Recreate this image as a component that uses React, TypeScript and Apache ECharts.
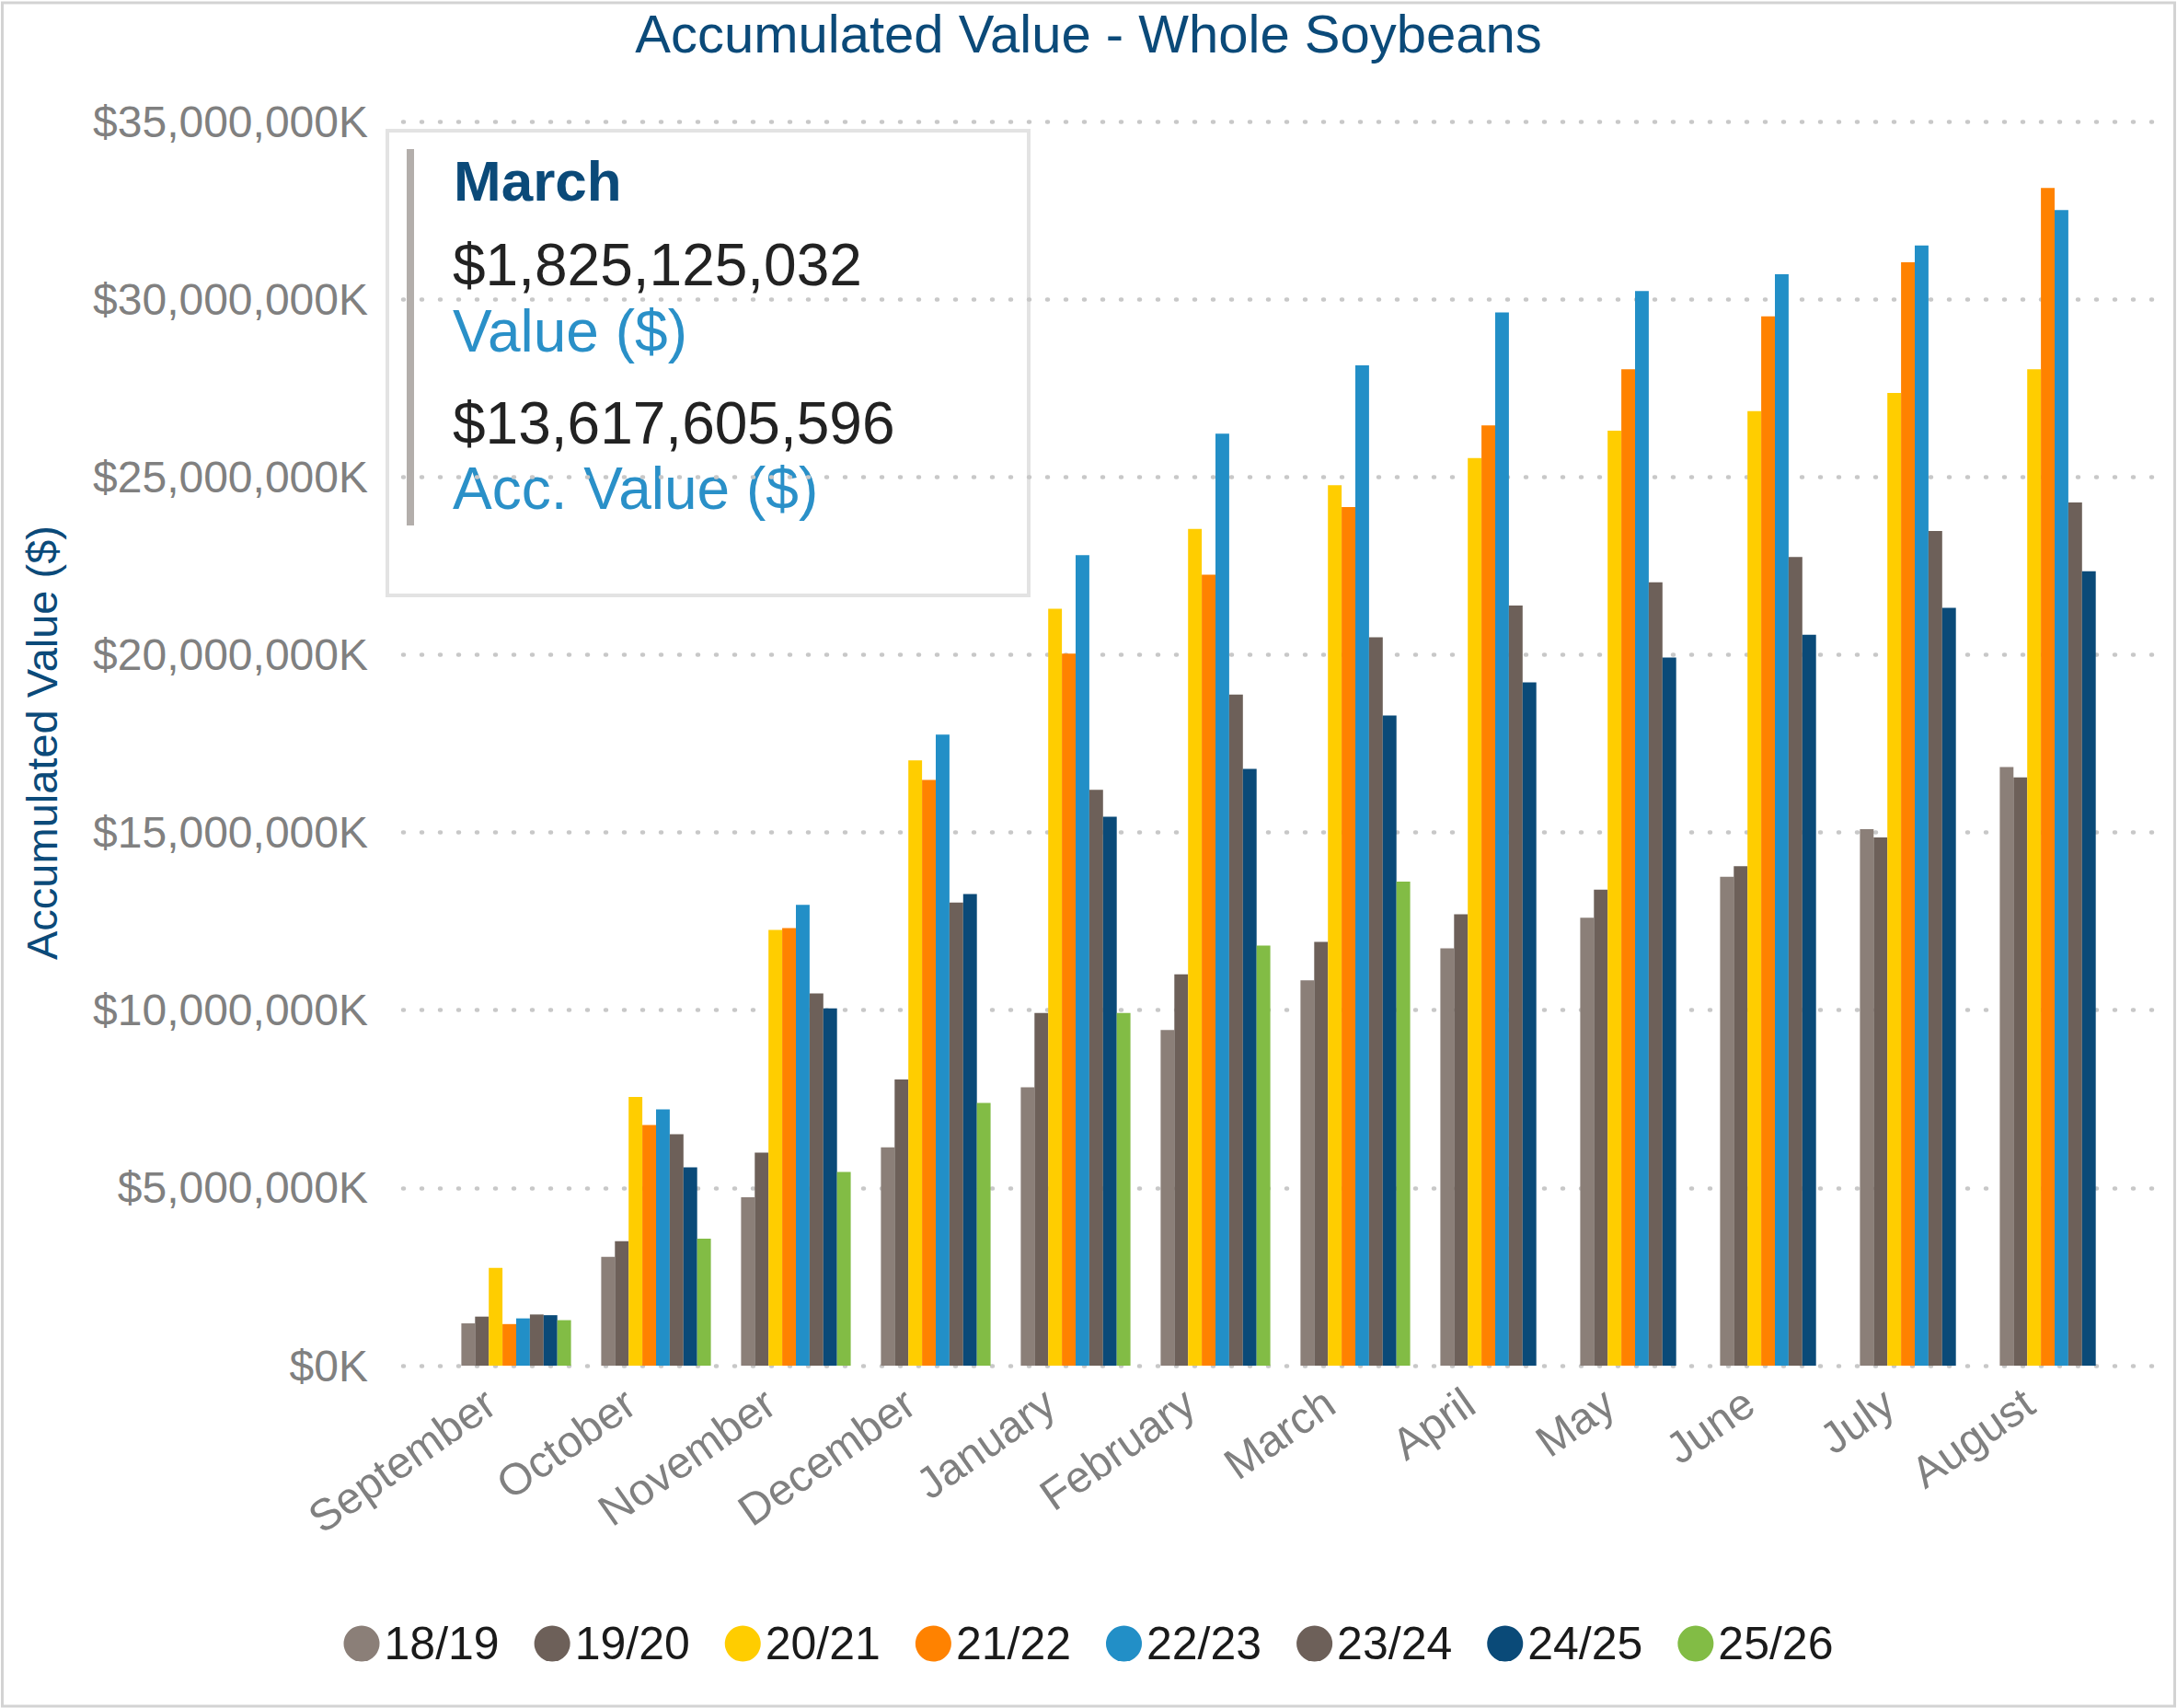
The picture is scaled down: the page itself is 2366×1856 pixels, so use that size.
import React, { useEffect, useRef } from "react";
import * as echarts from "echarts";

const months = [
  "September", "October", "November", "December", "January", "February",
  "March", "April", "May", "June", "July", "August",
];
const seasons = ["18/19", "19/20", "20/21", "21/22", "22/23", "23/24", "24/25", "25/26"];
const seasonColors = ["#8b7f78", "#6d6059", "#ffcd00", "#ff8200", "#228fc7", "#6d6059", "#0a4a78", "#82bc45"];

// Accumulated value in thousands of dollars (K)
const s1819 = [1190000, 3060000, 4740000, 6140000, 7830000, 9440000, 10840000, 11740000, 12600000, 13750000, 15090000, 16840000];
const s1920 = [1380000, 3500000, 5990000, 8050000, 9920000, 11010000, 11920000, 12700000, 13390000, 14050000, 14860000, 16550000];
const s2021 = [2750000, 7560000, 12260000, 17030000, 21290000, 23540000, 24770000, 25530000, 26300000, 26850000, 27360000, 28030000];
const s2122 = [1170000, 6770000, 12310000, 16480000, 20030000, 22250000, 24150000, 26450000, 28030000, 29520000, 31040000, 33130000];
const s2223 = [1330000, 7210000, 12960000, 17750000, 22800000, 26220000, 28140000, 29630000, 30230000, 30700000, 31510000, 32510000];
const s2324 = [1440000, 6510000, 10470000, 13030000, 16200000, 18880000, 20490000, 21380000, 22040000, 22750000, 23480000, 24280000];
const s2425 = [1420000, 5580000, 10050000, 13270000, 15440000, 16790000, 18290000, 19220000, 19920000, 20560000, 21320000, 22350000];
const s2526 = [1280000, 3570000, 5450000, 7390000, 9920000, 11820000, 13617606, null, null, null, null, null];
const seriesValues = [s1819, s1920, s2021, s2122, s2223, s2324, s2425, s2526];

const yMin = 0;
const yMax = 35000000;
const yStep = 5000000;

const tooltipMonth = "March";
const tooltipValue = "$1,825,125,032";
const tooltipValueLabel = "Value ($)";
const tooltipAcc = "$13,617,605,596";
const tooltipAccLabel = "Acc. Value ($)";

const FONT = "'Liberation Sans', Arial, sans-serif";

export default function App() {
  const ref = useRef<HTMLDivElement>(null);
  useEffect(() => {
    document.body.style.margin = "0";
    const chart = echarts.init(ref.current!, null, { renderer: "svg" });
    const option: any = {
      animation: false,
      backgroundColor: "#ffffff",
      textStyle: { fontFamily: FONT },
      title: {
        text: "Accumulated Value - Whole Soybeans",
        left: "center",
        top: 2,
        textStyle: { fontSize: 58, fontWeight: "normal", color: "#0b4a79", fontFamily: FONT },
      },
      legend: {
        data: seasons,
        left: "center",
        top: 1756,
        icon: "circle",
        itemWidth: 39,
        itemHeight: 39,
        itemGap: 38,
        selectedMode: false,
        textStyle: { fontSize: 50, color: "#1a1a1a", fontFamily: FONT },
      },
      grid: [
        { left: 438, right: 21, top: 132, bottom: 372, containLabel: false },
        { left: 485, right: 57, top: 132, bottom: 372, containLabel: false },
      ],
      xAxis: [
        { gridIndex: 0, type: "category", data: months, show: false },
        {
          gridIndex: 1,
          type: "category",
          data: months,
          axisLine: { show: false },
          axisTick: { show: false },
          axisLabel: {
            rotate: 35,
            fontSize: 48,
            color: "#808080",
            margin: 16,
            padding: [0, 34, 0, 0],
            interval: 0,
            fontFamily: FONT,
          },
        },
      ],
      yAxis: [
        {
          gridIndex: 0,
          type: "value",
          min: yMin,
          max: yMax,
          interval: yStep,
          axisLine: { show: false },
          axisTick: { show: false },
          axisLabel: {
            fontSize: 48,
            color: "#808080",
            margin: 38,
            fontFamily: FONT,
            formatter: (v: number) => "$" + v.toLocaleString("en-US") + "K",
          },
          splitLine: {
            show: true,
            lineStyle: { color: "#c8c8c8", width: 4.5, type: [1, 19], cap: "round" },
          },
        },
        { gridIndex: 1, type: "value", min: yMin, max: yMax, interval: yStep, show: false, splitLine: { show: false } },
      ],
      series: seasons.map((name, i) => ({
        name,
        type: "bar",
        xAxisIndex: 1,
        yAxisIndex: 1,
        data: seriesValues[i],
        barWidth: 14.9,
        barGap: "0%",
        itemStyle: { color: seasonColors[i] },
        emphasis: { disabled: true },
      })),
      graphic: [
        {
          type: "text",
          x: 45,
          y: 807,
          rotation: Math.PI / 2,
          style: {
            text: "Accumulated Value ($)",
            fontSize: 47,
            fill: "#0b4a79",
            fontFamily: FONT,
            align: "center",
            verticalAlign: "middle",
          },
        },
        {
          type: "group",
          z: 100,
          children: [
            {
              type: "rect",
              shape: { x: 421, y: 142, width: 697, height: 505 },
              style: { fill: "#ffffff", stroke: "#e3e3e3", lineWidth: 4 },
            },
            { type: "rect", shape: { x: 442, y: 162, width: 8, height: 409 }, style: { fill: "#b3aeab" } },
            {
              type: "text", x: 493, y: 196,
              style: { text: tooltipMonth, fontSize: 62, fontWeight: "bold", fill: "#0b4a79", fontFamily: FONT, verticalAlign: "middle" },
            },
            {
              type: "text", x: 492, y: 288,
              style: { text: tooltipValue, fontSize: 64, fill: "#222222", fontFamily: FONT, verticalAlign: "middle" },
            },
            {
              type: "text", x: 492, y: 360,
              style: { text: tooltipValueLabel, fontSize: 64, fill: "#2a90c8", fontFamily: FONT, verticalAlign: "middle" },
            },
            {
              type: "text", x: 492, y: 460,
              style: { text: tooltipAcc, fontSize: 64, fill: "#222222", fontFamily: FONT, verticalAlign: "middle" },
            },
            {
              type: "text", x: 492, y: 531,
              style: { text: tooltipAccLabel, fontSize: 64, fill: "#2a90c8", fontFamily: FONT, verticalAlign: "middle" },
            },
          ],
        },
        {
          type: "rect",
          z: 100,
          shape: { x: 2.5, y: 3, width: 2361, height: 1851 },
          style: { fill: "none", stroke: "#d3d3d3", lineWidth: 3 },
        },
      ],
    };
    chart.setOption(option);
    return () => chart.dispose();
  }, []);
  return (
    <div
      ref={ref}
      style={{ position: "fixed", left: 0, top: 0, width: 2366, height: 1856, background: "#fff" }}
    />
  );
}
